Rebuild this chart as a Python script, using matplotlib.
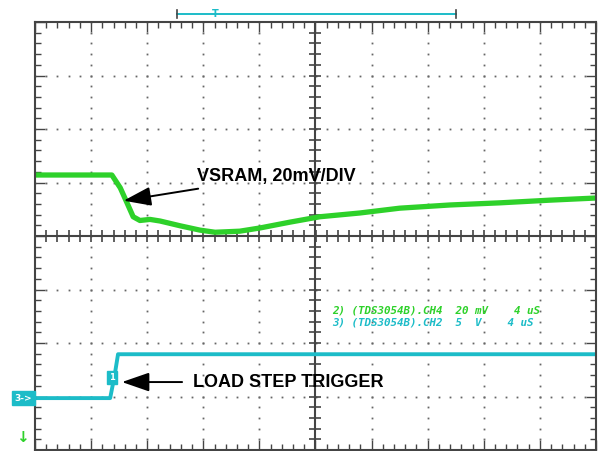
import numpy as np
import matplotlib.pyplot as plt

# scope traces, in screen divisions (10 x 8 grid, centre = 0,0)
vsram_t = [-5.0, -3.63, -3.48, -3.36, -3.25, -3.13, -2.95, -2.77, -2.41, -2.06,
           -1.79, -1.35, -0.99, -0.45, 0.08, 0.79, 1.50, 2.40, 3.29, 4.18, 5.0]
vsram_v = [1.14, 1.14, 0.90, 0.62, 0.36, 0.29, 0.31, 0.28, 0.19, 0.11,
           0.07, 0.09, 0.15, 0.26, 0.36, 0.43, 0.52, 0.58, 0.62, 0.67, 0.71]

trig_t = [-5.0, -3.66, -3.58, -3.52, 5.0]
trig_v = [-3.03, -3.03, -2.60, -2.21, -2.21]

readout = ["2) (TDS3054B).CH4  20 mV    4 uS",
           "3) (TDS3054B).CH2  5  V    4 uS"]

GREEN = "#2ed12a"
CYAN = "#1cbcc8"
FRAME = "#444444"

fig = plt.figure(figsize=(6.0, 4.51), dpi=100)
ax = fig.add_axes([35 / 600, 1 - 450 / 451, 561 / 600, 428 / 451])
ax.set_xlim(-5, 5)
ax.set_ylim(-4, 4)

for s in ax.spines.values():
    s.set_color(FRAME)
    s.set_linewidth(1.5)

# edge ticks
ax.set_xticks(np.arange(-5, 6, 1))
ax.set_yticks(np.arange(-4, 5, 1))
ax.set_xticks(np.arange(-5, 5.01, 0.2), minor=True)
ax.set_yticks(np.arange(-4, 4.01, 0.2), minor=True)
ax.tick_params(which="both", direction="in", top=True, right=True,
               labelbottom=False, labelleft=False, color=FRAME, width=1.0)
ax.tick_params(which="major", length=7)
ax.tick_params(which="minor", length=4)

# dotted graticule
minor_x = np.arange(-5, 5.01, 0.2)
minor_y = np.arange(-4, 4.01, 0.2)
for gx in range(-4, 5):
    if gx != 0:
        ax.plot(np.full_like(minor_y, gx), minor_y, ls="none", marker="s",
                ms=1.3, color="#666666", mew=0)
for gy in range(-3, 4):
    if gy != 0:
        ax.plot(minor_x, np.full_like(minor_x, gy), ls="none", marker="s",
                ms=1.3, color="#666666", mew=0)

# centre cross with ticks
ax.axhline(0, color=FRAME, lw=1.5)
ax.axvline(0, color=FRAME, lw=1.5)
ax.plot(minor_x, np.zeros_like(minor_x), ls="none", marker="|", ms=8,
        mew=1.2, color=FRAME)
ax.plot(np.zeros_like(minor_y), minor_y, ls="none", marker="_", ms=8,
        mew=1.2, color=FRAME)

# traces
ax.plot(vsram_t, vsram_v, color=GREEN, lw=3.8, solid_joinstyle="round")
ax.plot(trig_t, trig_v, color=CYAN, lw=2.8, solid_joinstyle="round")

# annotations
arrow = dict(arrowstyle="-|>,head_length=1.3,head_width=0.45",
             color="black", lw=1.4, shrinkA=6, shrinkB=0)
ax.annotate("VSRAM, 20mV/DIV", xy=(-3.42, 0.66), xytext=(-2.11, 1.12),
            fontsize=13, fontweight="bold", family="Liberation Sans",
            va="center", ha="left", arrowprops=arrow)
ax.annotate("LOAD STEP TRIGGER", xy=(-3.45, -2.73), xytext=(-2.18, -2.73),
            fontsize=13, fontweight="bold", family="Liberation Sans",
            va="center", ha="left", arrowprops=arrow)

# scope readout
for i, (line, c) in enumerate(zip(readout, [GREEN, CYAN])):
    ax.text(0.29, -1.40 - 0.21 * i, line, color=c, fontsize=7.8,
            family="DejaVu Sans Mono", style="italic", fontweight="bold",
            va="center", ha="left")

# trigger marker "1"
ax.text(-3.63, -2.64, "1", color="white", fontsize=6, ha="center",
        va="center", fontweight="bold",
        bbox=dict(boxstyle="square,pad=0.25", fc=CYAN, ec=CYAN))

# channel 3 ground marker
ax.text(-5.21, -3.03, "3->", color="white", fontsize=6.5, ha="center",
        va="center", fontweight="bold", clip_on=False,
        bbox=dict(boxstyle="square,pad=0.3", fc=CYAN, ec=CYAN))
ax.text(-5.23, -3.76, "\u2193", color=GREEN, fontsize=11, ha="center",
        va="center", fontweight="bold", clip_on=False)

# record window bracket on top
ax.plot([-2.47, 2.50], [4.15, 4.15], color=CYAN, lw=1.4, clip_on=False)
for bx in (-2.47, 2.50):
    ax.plot([bx, bx], [4.08, 4.22], color=FRAME, lw=1.2, clip_on=False)
ax.text(-1.79, 4.15, "T", color=CYAN, fontsize=7, ha="center", va="center",
        fontweight="bold", clip_on=False)

fig.savefig("out.png", dpi=100)
